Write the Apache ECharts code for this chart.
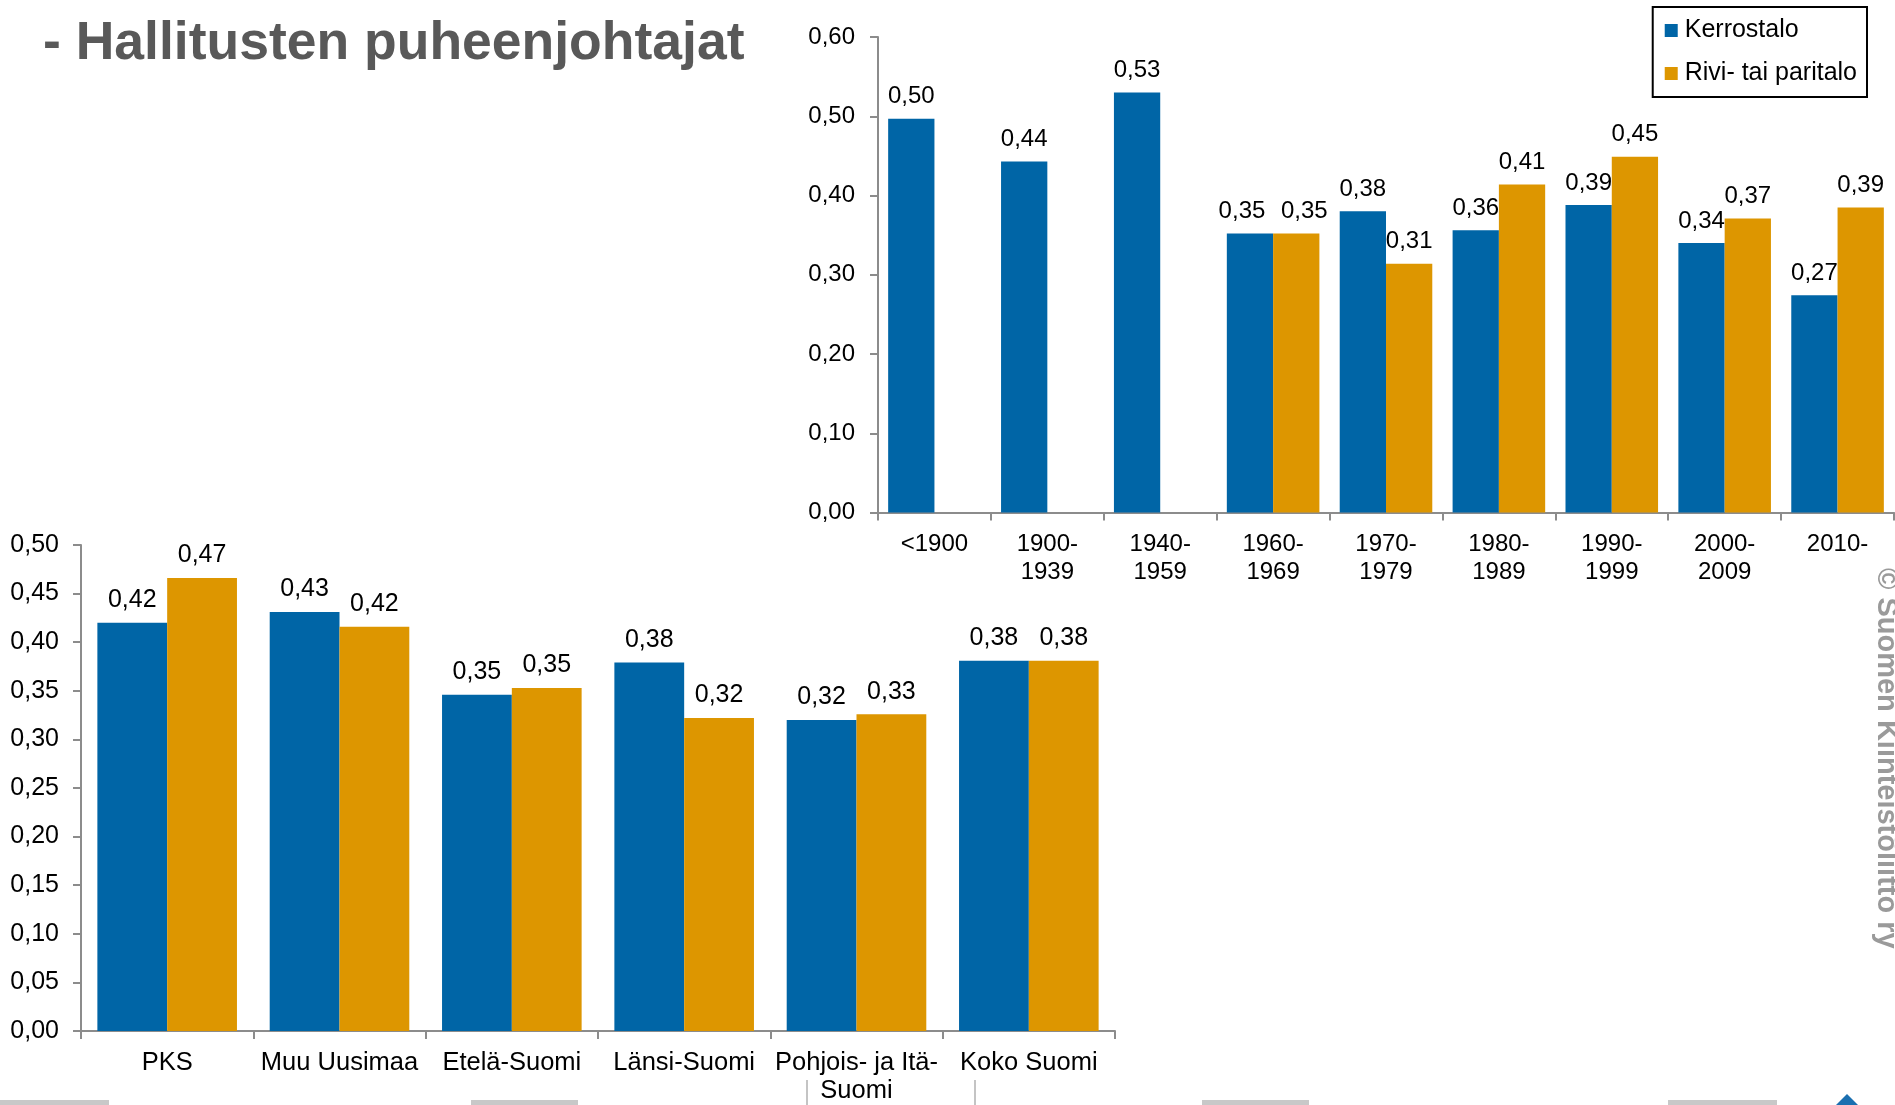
<!DOCTYPE html>
<html><head><meta charset="utf-8">
<script src="https://cdn.jsdelivr.net/npm/echarts@6/dist/echarts.min.js"></script>
<style>html,body{margin:0;padding:0;background:#fff;overflow:hidden}#c{width:1895px;height:1105px}</style>
</head><body><div id="c"></div>
<script>
// ---- data ----
const seriesNames = ['Kerrostalo', 'Rivi- tai paritalo'];
const topCategories = ['<1900', '1900-\n1939', '1940-\n1959', '1960-\n1969', '1970-\n1979', '1980-\n1989', '1990-\n1999', '2000-\n2009', '2010-'];
const topKerrostalo = [0.497, 0.443, 0.530, 0.352, 0.380, 0.356, 0.388, 0.340, 0.274];
const topRivi = [null, null, null, 0.352, 0.314, 0.414, 0.449, 0.371, 0.385];
const bottomCategories = ['PKS', 'Muu Uusimaa', 'Etelä-Suomi', 'Länsi-Suomi', 'Pohjois- ja Itä-\nSuomi', 'Koko Suomi'];
const bottomKerrostalo = [0.420, 0.431, 0.346, 0.379, 0.320, 0.381];
const bottomRivi = [0.466, 0.416, 0.353, 0.322, 0.326, 0.381];
const topScale = [0, 0.6, 0.1];      // min, max, interval
const bottomScale = [0, 0.5, 0.05];
const titleText = '- Hallitusten puheenjohtajat';
const watermark = '© Suomen Kiinteistöliitto ry';

// ---- style ----
const FONT = '"Liberation Sans", Arial, sans-serif';
const BLUE = '#0065a6', ORANGE = '#dd9600';
const AXIS = '#8c8c8c';
const fmt = v => Number(v).toFixed(2).replace('.', ',');

function xAxis(grid, cats, fs) {
  return {
    type: 'category', gridIndex: grid, data: cats,
    axisLine: { lineStyle: { color: AXIS, width: 2 } },
    axisTick: { show: true, length: 8, lineStyle: { color: AXIS, width: 2 }, alignWithLabel: false },
    axisLabel: { color: '#000', fontSize: fs, fontFamily: FONT, margin: 18, lineHeight: 28, interval: 0 },
    splitLine: { show: false }
  };
}
function yAxis(grid, sc, fs, margin) {
  return {
    type: 'value', gridIndex: grid, min: sc[0], max: sc[1], interval: sc[2],
    axisLine: { show: true, lineStyle: { color: AXIS, width: 2 } },
    axisTick: { show: true, length: 8, lineStyle: { color: AXIS, width: 2 } },
    axisLabel: { color: '#000', fontSize: fs, fontFamily: FONT, margin, formatter: fmt },
    splitLine: { show: false }
  };
}
// when two neighbouring labels of one category nearly coincide, nudge them apart (as the source does)
function withNudge(vals, other, dir) {
  return vals.map((v, i) => {
    if (v == null) return null;
    const o = other[i];
    if (o != null && Math.abs(o - v) < 0.01) return { value: v, label: { offset: [dir * 8, 0] } };
    return v;
  });
}
function bar(name, idx, data, color, gap, fs) {
  return {
    name, type: 'bar', xAxisIndex: idx, yAxisIndex: idx, data,
    barGap: '0%', barCategoryGap: gap,
    itemStyle: { color },
    label: { show: true, position: 'top', distance: 10, color: '#000', fontSize: fs, fontFamily: FONT,
      formatter: p => fmt(p.value) },
    emphasis: { disabled: true }
  };
}

const chart = echarts.init(document.getElementById('c'), null, { renderer: 'canvas' });
chart.setOption({
  animation: false,
  backgroundColor: '#fff',
  title: {
    text: titleText, left: 38, top: 12,
    textStyle: { fontSize: 53.5, fontWeight: 'bold', color: '#595959', fontFamily: FONT }
  },
  legend: {
    data: seriesNames, orient: 'vertical', right: 28, top: 7,
    itemWidth: 13, itemHeight: 13, itemGap: 18, icon: 'rect',
    padding: [11, 10, 11, 12], borderColor: '#000', borderWidth: 2,
    textStyle: { fontSize: 25, color: '#000', fontFamily: FONT, padding: [0, 0, 0, 2] }
  },
  grid: [
    { left: 878, top: 37, width: 1016, height: 475.5 },
    { left: 81, top: 545, width: 1034, height: 488 }
  ],
  xAxis: [xAxis(0, topCategories, 24), xAxis(1, bottomCategories, 25.5)],
  yAxis: [yAxis(0, topScale, 24, 23), yAxis(1, bottomScale, 25, 22)],
  series: [
    bar(seriesNames[0], 0, withNudge(topKerrostalo, topRivi, -1), BLUE, '18%', 24),
    bar(seriesNames[1], 0, withNudge(topRivi, topKerrostalo, 1), ORANGE, '18%', 24),
    bar(seriesNames[0], 1, bottomKerrostalo, BLUE, '19%', 25),
    bar(seriesNames[1], 1, bottomRivi, ORANGE, '19%', 25)
  ],
  graphic: [
    { type: 'text', x: 1886, y: 568, rotation: -Math.PI / 2,
      style: { text: watermark, fill: '#9a9a9a', font: 'bold 29px ' + FONT, textAlign: 'left', textVerticalAlign: 'middle' } },
    { type: 'rect', shape: { x: 0, y: 1100, width: 109, height: 5 }, style: { fill: '#c8c8c8' } },
    { type: 'rect', shape: { x: 471, y: 1100, width: 107, height: 5 }, style: { fill: '#c8c8c8' } },
    { type: 'rect', shape: { x: 1202, y: 1100, width: 107, height: 5 }, style: { fill: '#c8c8c8' } },
    { type: 'rect', shape: { x: 1668, y: 1100, width: 109, height: 5 }, style: { fill: '#c8c8c8' } },
    { type: 'line', shape: { x1: 807, y1: 1080, x2: 807, y2: 1105 }, style: { stroke: '#c4c4c4', lineWidth: 2 } },
    { type: 'line', shape: { x1: 975, y1: 1080, x2: 975, y2: 1105 }, style: { stroke: '#c4c4c4', lineWidth: 2 } },
    { type: 'polygon', shape: { points: [[1836, 1105], [1847, 1094], [1858, 1105]] }, style: { fill: '#1a6fb0' } }
  ]
});
</script>
</body></html>
